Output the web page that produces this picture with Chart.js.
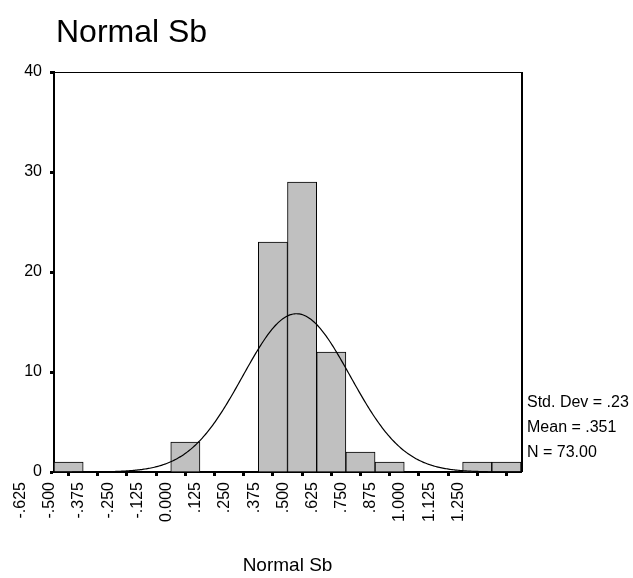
<!DOCTYPE html>
<html>
<head>
<meta charset="utf-8">
<script src="https://cdn.jsdelivr.net/npm/chart.js@4/dist/chart.umd.min.js"></script>
<style>
  html, body { margin: 0; padding: 0; background: #fff; }
  #wrap { width: 633px; height: 578px; }
</style>
</head>
<body>
<div id="wrap"><canvas id="hist" width="633" height="578"></canvas></div>
<script>
// bin midpoints (width .125) and their counts
const binLabels = ['-.625', '-.500', '-.375', '-.250', '-.125', '0.000', '.125', '.250',
  '.375', '.500', '.625', '.750', '.875', '1.000', '1.125', '1.250'];
const binCenters = [-0.625, -0.5, -0.375, -0.25, -0.125, 0, 0.125, 0.25,
  0.375, 0.5, 0.625, 0.75, 0.875, 1.0, 1.125, 1.25];
const counts = [1, 0, 0, 0, 3, 0, 0, 23, 29, 12, 2, 1, 0, 0, 1, 1];
const binWidth = 0.125;

// summary statistics shown beside the plot
const statLabels = ['Std. Dev = .23', 'Mean = .351', 'N = 73.00'];
const stdDev = 0.23;
const mean = 0.351;
const n = 73;

const yTicks = [0, 10, 20, 30, 40];

const xMin = binCenters[0] - binWidth / 2;
const xMax = binCenters[binCenters.length - 1] + binWidth / 2;

// fitted normal curve, scaled to counts per bin
const curve = [];
for (let x = xMin; x <= xMax + 1e-9; x += 0.005) {
  const z = (x - mean) / stdDev;
  curve.push({ x: x, y: n * binWidth / (stdDev * Math.sqrt(2 * Math.PI)) * Math.exp(-0.5 * z * z) });
}

const font = 'Liberation Sans, Arial, sans-serif';

const frame = {
  id: 'frame',
  afterDraw(chart) {
    const { ctx, chartArea: a } = chart;
    ctx.save();
    ctx.strokeStyle = '#000';
    ctx.lineWidth = 1;
    ctx.beginPath();
    ctx.moveTo(a.left, a.top + 0.5);
    ctx.lineTo(a.right, a.top + 0.5);
    ctx.stroke();
    ctx.lineWidth = 2;
    ctx.beginPath();
    ctx.moveTo(a.right + 1, a.top);
    ctx.lineTo(a.right + 1, a.bottom);
    ctx.stroke();

    ctx.fillStyle = '#000';
    ctx.textBaseline = 'alphabetic';
    ctx.textAlign = 'left';
    ctx.font = '32px ' + font;
    ctx.fillText('Normal Sb', 56, 42);

    ctx.font = '16px ' + font;
    statLabels.forEach((s, i) => ctx.fillText(s, 527, 407 + i * 25));
    ctx.restore();
  }
};

new Chart(document.getElementById('hist'), {
  data: {
    labels: binLabels,
    datasets: [
      {
        type: 'line',
        data: curve,
        xAxisID: 'x2',
        borderColor: '#000',
        borderWidth: 1.2,
        pointRadius: 0,
        fill: false,
        order: 0
      },
      {
        type: 'bar',
        data: counts,
        xAxisID: 'x',
        grouped: false,
        backgroundColor: '#c0c0c0',
        borderColor: '#000',
        borderWidth: 1,
        categoryPercentage: 1,
        barPercentage: 1,
        order: 1
      }
    ]
  },
  options: {
    responsive: false,
    animation: false,
    layout: { padding: { left: 0, top: 72, right: 112, bottom: 0 } },
    plugins: { legend: { display: false }, tooltip: { enabled: false } },
    scales: {
      x: {
        type: 'category',
        offset: true,
        afterFit: s => { s.height = 106; },
        border: { color: '#000', width: 2 },
        grid: { drawOnChartArea: false, offset: false, tickLength: 4, tickWidth: 3, tickColor: '#000' },
        ticks: {
          color: '#000', font: { family: font, size: 16 },
          autoSkip: false, minRotation: 90, maxRotation: 90,
          padding: 6, labelOffset: -48
        },
        title: {
          display: true, text: 'Normal Sb', color: '#000',
          font: { family: font, size: 19 }, padding: { top: 0, bottom: 1 }
        }
      },
      x2: { type: 'linear', display: false, min: xMin, max: xMax },
      y: {
        min: 0, max: 40,
        afterFit: s => { s.width = 54; },
        afterBuildTicks: s => { s.ticks = yTicks.map(v => ({ value: v })); },
        border: { color: '#000', width: 2 },
        grid: { drawOnChartArea: false, tickLength: 4, tickWidth: 3, tickColor: '#000' },
        ticks: { color: '#000', font: { family: font, size: 16 }, padding: 8 }
      }
    }
  },
  plugins: [frame]
});
</script>
</body>
</html>
